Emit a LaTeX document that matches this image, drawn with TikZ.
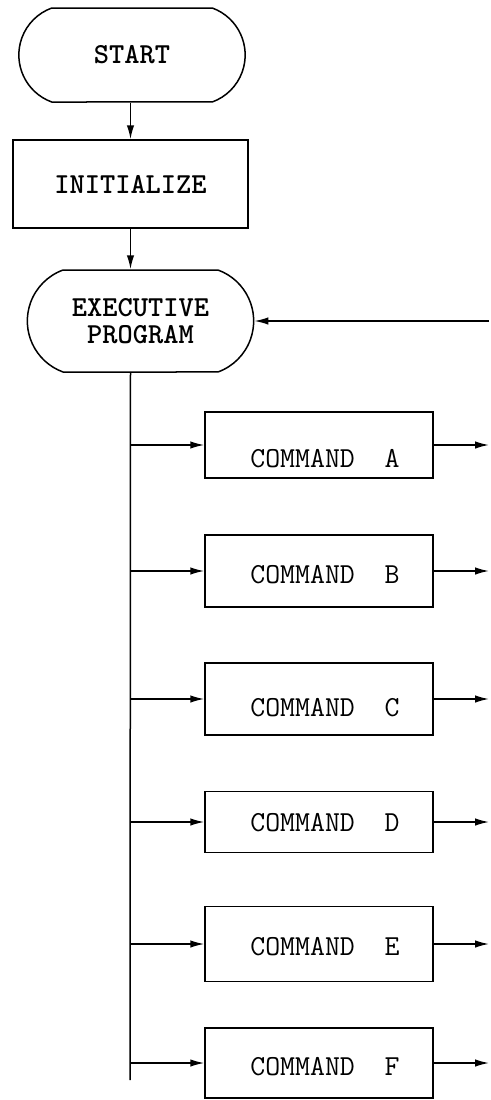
\documentclass[tikz,border=0pt]{standalone}
\usetikzlibrary{arrows.meta,shapes.misc}

\tikzset{
  terminal/.style={draw, rounded rectangle, rounded rectangle arc length=140,
    minimum width=233pt, align=center, font=\ttfamily\bfseries\fontsize{29}{27}\selectfont},
  % #1 = how far the text sits below the middle of the box
  process/.style={draw, rectangle, minimum width=228pt,
    text height=17pt+2*#1, text depth=0pt,
    font=\ttfamily\fontsize{29}{29}\selectfont},
  flow/.style={-{Latex[length=14pt,width=7.5pt]}},
}

\begin{document}
\begin{tikzpicture}[x=1pt, y=-1pt, line width=1.5pt]
  \useasboundingbox (0,0) rectangle (490,1100);

  % Start and setup
  \node[terminal, minimum height=94pt] (start) at (132,55) {START};
  \node[draw, rectangle, minimum width=235pt, minimum height=88pt,
    font=\ttfamily\bfseries\fontsize{29}{29}\selectfont] (init) at (130.5,184) {INITIALIZE};
  \node[terminal, minimum height=102pt] (exec) at (140.5,321) {EXECUTIVE\\PROGRAM};

  \draw[flow] (init.north |- start.south) -- (init.north);
  \draw[flow] (init.south) -- (init.south |- exec.north);

  % Commands
  \node[process=14pt, minimum height=66pt] (cmdA) at (319,445) {\hspace*{12pt}COMMAND\ \ A};
  \node[process=4pt, minimum height=72pt] (cmdB) at (319,571) {\hspace*{12pt}COMMAND\ \ B};
  \node[process=9pt, minimum height=72pt] (cmdC) at (319,699) {\hspace*{12pt}COMMAND\ \ C};
  \node[process=1pt, minimum height=61pt] (cmdD) at (319,822) {\hspace*{12pt}COMMAND\ \ D};
  \node[process=3pt, minimum height=75pt] (cmdE) at (319,944) {\hspace*{12pt}COMMAND\ \ E};
  \node[process=4pt, minimum height=70pt] (cmdF) at (319,1063) {\hspace*{12pt}COMMAND\ \ F};

  % Trunk line down the left
  \coordinate (trunkend) at (130,1080);
  \coordinate (outright) at (489,0);
  \draw (init.south |- exec.south) -- (trunkend);

  \draw[flow] (trunkend |- cmdA.west) -- (cmdA.west);
  \draw[flow] (trunkend |- cmdB.west) -- (cmdB.west);
  \draw[flow] (trunkend |- cmdC.west) -- (cmdC.west);
  \draw[flow] (trunkend |- cmdD.west) -- (cmdD.west);
  \draw[flow] (trunkend |- cmdE.west) -- (cmdE.west);
  \draw[flow] (trunkend |- cmdF.west) -- (cmdF.west);

  % Outputs and return path
  \draw[flow] (cmdA.east) -- (cmdA.east -| outright);
  \draw[flow] (cmdB.east) -- (cmdB.east -| outright);
  \draw[flow] (cmdC.east) -- (cmdC.east -| outright);
  \draw[flow] (cmdD.east) -- (cmdD.east -| outright);
  \draw[flow] (cmdE.east) -- (cmdE.east -| outright);
  \draw[flow] (cmdF.east) -- (cmdF.east -| outright);

  \draw[flow] (exec.east -| outright) -- (exec.east);
\end{tikzpicture}
\end{document}
